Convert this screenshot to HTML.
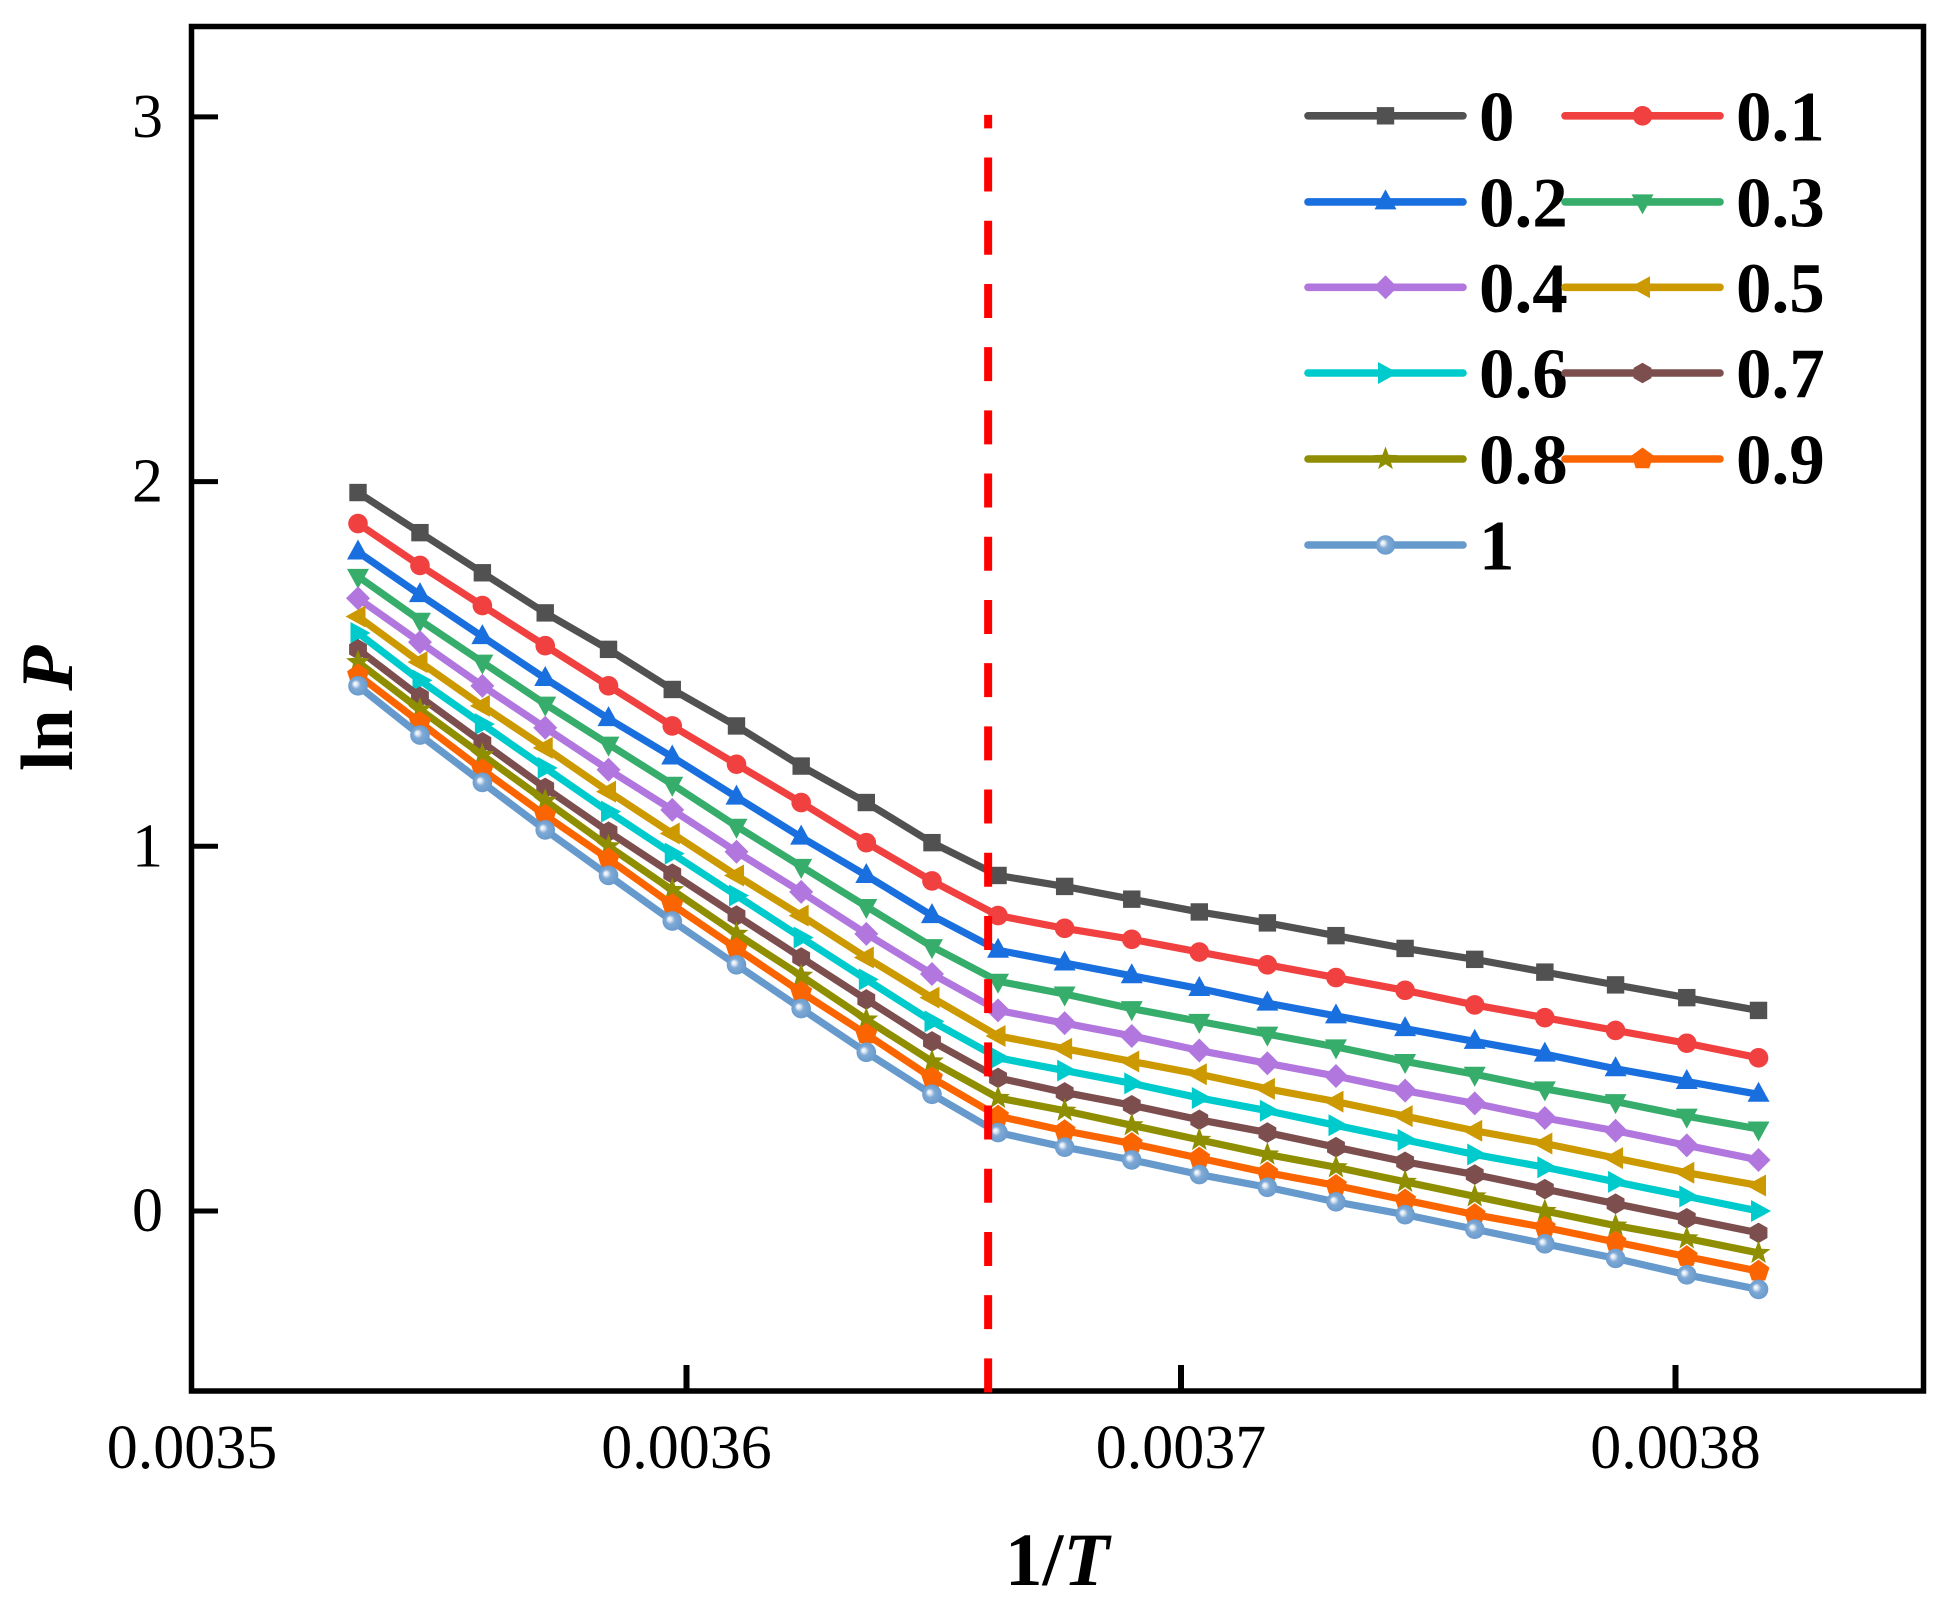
<!DOCTYPE html>
<html lang="en">
<head>
<meta charset="utf-8">
<title>ln P vs 1/T</title>
<style>
html,body{margin:0;padding:0;background:#fff;}
svg{display:block;}
text{font-family:"Liberation Serif",serif;fill:#000;}
.tick{font-size:62px;}
.leg{font-size:71px;font-weight:bold;}
.title{font-size:75px;font-weight:bold;}
.ytitle{font-size:74px;font-weight:bold;}
</style>
</head>
<body>
<svg id="chart" xmlns="http://www.w3.org/2000/svg" width="1955" height="1606" viewBox="0 0 1955 1606">
  <defs>
    <radialGradient id="sphere" cx="50%" cy="50%" r="55%" fx="34%" fy="38%">
      <stop offset="0" stop-color="#ffffff"/>
      <stop offset="0.18" stop-color="#dfe9f4"/>
      <stop offset="0.42" stop-color="#7fa9d5"/>
      <stop offset="1" stop-color="#6699cc"/>
    </radialGradient>
  </defs>
  <rect x="191.5" y="26.5" width="1732" height="1364.5" fill="none" stroke="#000" stroke-width="5.5"/>
  <g id="ticks"></g>
  <g id="series"></g>
  <g id="refline"></g>
  <g id="legend"></g>
  <text class="title" x="1005" y="1585">1/<tspan font-style="italic">T</tspan></text>
  <text class="ytitle" transform="translate(72 771) rotate(-90)">ln <tspan font-style="italic">P</tspan></text>
</svg>
<script>
const inverseT = [0.00353357,0.00354610,0.00355872,0.00357143,0.00358423,0.00359712,0.00361011,0.00362319,0.00363636,0.00364964,0.00366300,0.00367647,0.00369004,0.00370370,0.00371747,0.00373134,0.00374532,0.00375940,0.00377358,0.00378788,0.00380228,0.00381679];
const seriesNames = ['0','0.1','0.2','0.3','0.4','0.5','0.6','0.7','0.8','0.9','1'];
const series0 = [1.97,1.86,1.75,1.64,1.54,1.43,1.33,1.22,1.12,1.01,0.92,0.89,0.855,0.82,0.79,0.755,0.72,0.69,0.655,0.62,0.585,0.55];
const series1 = [1.885,1.77,1.66,1.55,1.44,1.33,1.225,1.12,1.01,0.905,0.81,0.775,0.745,0.71,0.675,0.64,0.605,0.565,0.53,0.495,0.46,0.42];
const series2 = [1.807,1.69,1.575,1.46,1.35,1.245,1.135,1.025,0.92,0.81,0.715,0.68,0.645,0.61,0.57,0.535,0.50,0.465,0.43,0.39,0.355,0.32];
const series3 = [1.74,1.62,1.505,1.39,1.28,1.17,1.055,0.945,0.835,0.725,0.63,0.595,0.555,0.52,0.485,0.45,0.41,0.375,0.335,0.30,0.26,0.225];
const series4 = [1.68,1.56,1.44,1.325,1.21,1.10,0.985,0.875,0.76,0.65,0.55,0.515,0.48,0.44,0.405,0.37,0.33,0.295,0.255,0.22,0.18,0.14];
const series5 = [1.63,1.505,1.385,1.27,1.15,1.035,0.92,0.81,0.695,0.585,0.48,0.445,0.41,0.375,0.335,0.30,0.26,0.22,0.185,0.145,0.105,0.07];
const series6 = [1.585,1.455,1.335,1.215,1.095,0.98,0.865,0.75,0.635,0.52,0.42,0.385,0.35,0.31,0.275,0.235,0.195,0.155,0.12,0.08,0.04,0.00];
const series7 = [1.54,1.41,1.285,1.16,1.04,0.925,0.81,0.695,0.58,0.465,0.365,0.325,0.29,0.25,0.215,0.175,0.135,0.10,0.06,0.02,-0.02,-0.06];
const series8 = [1.505,1.375,1.25,1.125,1.00,0.88,0.76,0.645,0.525,0.41,0.31,0.275,0.235,0.195,0.155,0.12,0.08,0.04,0.00,-0.04,-0.075,-0.115];
const series9 = [1.47,1.34,1.21,1.085,0.965,0.84,0.72,0.60,0.485,0.365,0.26,0.22,0.185,0.145,0.105,0.07,0.03,-0.01,-0.045,-0.085,-0.125,-0.165];
const series10 = [1.44,1.305,1.175,1.045,0.92,0.795,0.675,0.555,0.435,0.32,0.215,0.175,0.14,0.10,0.065,0.025,-0.01,-0.05,-0.09,-0.13,-0.175,-0.215];
const xTicks = [0.0035,0.0036,0.0037,0.0038];
const xTickLabels = ['0.0035','0.0036','0.0037','0.0038'];
const yTicks = [0,1,2,3];
const yTickLabels = ['0','1','2','3'];
const referenceX = [0.003661];
const referenceY = [-0.5,3];

const allSeries = [series0,series1,series2,series3,series4,series5,series6,series7,series8,series9,series10];
const colors = ['#515151','#F14040','#1A6FDF','#37AD6B','#B177DE','#CC9900','#00CBCC','#7D4E4E','#8E8E00','#FB6501','#6699CC'];
const shapes = ['square','circle','up','down','diamond','left','right','hexagon','star','pentagon','sphere'];

const NS = 'http://www.w3.org/2000/svg';
function xScale(v){ return 192 + (v - 0.0035) * 4945000; }
function yScale(v){ return 1211 - v * 364.7; }
function make(tag, attrs, parent){
  const el = document.createElementNS(NS, tag);
  for (const k in attrs) el.setAttribute(k, attrs[k]);
  parent.appendChild(el);
  return el;
}
function poly(pts, cx, cy){
  return pts.map(function(p){ return (cx + p[0]).toFixed(2) + ',' + (cy + p[1]).toFixed(2); }).join(' ');
}
function regular(n, r, rot){
  const out = [];
  for (let i = 0; i < n; i++){
    const a = rot + i * 2 * Math.PI / n;
    out.push([r * Math.cos(a), r * Math.sin(a)]);
  }
  return out;
}
function starPts(R, r){
  const out = [];
  for (let i = 0; i < 10; i++){
    const a = -Math.PI / 2 + i * Math.PI / 5;
    const q = i % 2 ? r : R;
    out.push([q * Math.cos(a), q * Math.sin(a)]);
  }
  return out;
}
function drawMarker(shape, cx, cy, color, parent){
  let el;
  if (shape === 'square') el = make('rect', {x:cx-8.7, y:cy-8.7, width:17.4, height:17.4, fill:color}, parent);
  else if (shape === 'circle') el = make('circle', {cx:cx, cy:cy, r:9.8, fill:color}, parent);
  else if (shape === 'sphere') el = make('circle', {cx:cx, cy:cy, r:9.8, fill:'url(#sphere)'}, parent);
  else if (shape === 'up') el = make('polygon', {points:poly([[0,-12.5],[11,7.5],[-11,7.5]],cx,cy), fill:color}, parent);
  else if (shape === 'down') el = make('polygon', {points:poly([[0,12.5],[11,-7.5],[-11,-7.5]],cx,cy), fill:color}, parent);
  else if (shape === 'left') el = make('polygon', {points:poly([[-12.5,0],[7.5,-11],[7.5,11]],cx,cy), fill:color}, parent);
  else if (shape === 'right') el = make('polygon', {points:poly([[12.5,0],[-7.5,-11],[-7.5,11]],cx,cy), fill:color}, parent);
  else if (shape === 'diamond') el = make('polygon', {points:poly([[0,-12],[12,0],[0,12],[-12,0]],cx,cy), fill:color}, parent);
  else if (shape === 'hexagon') el = make('polygon', {points:poly(regular(6,10.3,-Math.PI/2),cx,cy), fill:color}, parent);
  else if (shape === 'pentagon') el = make('polygon', {points:poly(regular(5,11.5,-Math.PI/2),cx,cy), fill:color}, parent);
  else el = make('polygon', {points:poly(starPts(12.5,5.2),cx,cy), fill:color}, parent);
  return el;
}

const ticksG = document.getElementById('ticks');
xTicks.forEach(function(v, i){
  const x = xScale(v);
  if (i > 0){
    const t = make('line', {x1:x, x2:x, y1:1365, y2:1389, stroke:'#000', 'stroke-width':6}, ticksG);
    
    
  }
  const l = make('text', {x:x, y:1468, 'text-anchor':'middle', class:'tick'}, ticksG);
  l.textContent = xTickLabels[i];
  
  
});
yTicks.forEach(function(v, i){
  const y = yScale(v);
  const t = make('line', {x1:193, x2:218, y1:y, y2:y, stroke:'#000', 'stroke-width':5}, ticksG);
  
  
  const l = make('text', {x:163, y:y+20, 'text-anchor':'end', class:'tick'}, ticksG);
  l.textContent = yTickLabels[i];
  
  
});

const seriesG = document.getElementById('series');
allSeries.forEach(function(vals, s){
  const g = make('g', {}, seriesG);
  
  
  const pts = vals.map(function(v, i){ return xScale(inverseT[i]).toFixed(2) + ',' + yScale(v).toFixed(2); }).join(' ');
  const line = make('polyline', {points:pts, fill:'none', stroke:colors[s], 'stroke-width':7.2, 'stroke-linejoin':'round'}, g);
  
  
  vals.forEach(function(v, i){
    const m = drawMarker(shapes[s], xScale(inverseT[i]), yScale(v), colors[s], g);
    
    
  });
});

const refG = document.getElementById('refline');
const ref = make('line', {x1:xScale(referenceX[0]), x2:xScale(referenceX[0]), y1:yScale(referenceY[0])-1, y2:yScale(referenceY[1])-2, stroke:'#FF0000', 'stroke-width':8, 'stroke-dasharray':'34 29.2'}, refG);



const legendG = document.getElementById('legend');
const legendRows = [115.8,201.9,287.3,373,459,545];
const legendCols = [1305,1562];
seriesNames.forEach(function(name, s){
  const col = s % 2;
  const row = Math.floor(s / 2);
  const y = legendRows[row];
  const x0 = legendCols[col];
  const g = make('g', {}, legendG);
  
  
  const l = make('line', {x1:x0+3, x2:x0+158, y1:y, y2:y, stroke:colors[s], 'stroke-width':7.6, 'stroke-linecap':'round'}, g);
  
  
  const m = drawMarker(shapes[s], x0+80.5, y, colors[s], g);
  
  
  const t = make('text', {x:x0+174, y:y+24.5, class:'leg'}, g);
  t.textContent = name;
  
  
});
</script>
</body>
</html>
